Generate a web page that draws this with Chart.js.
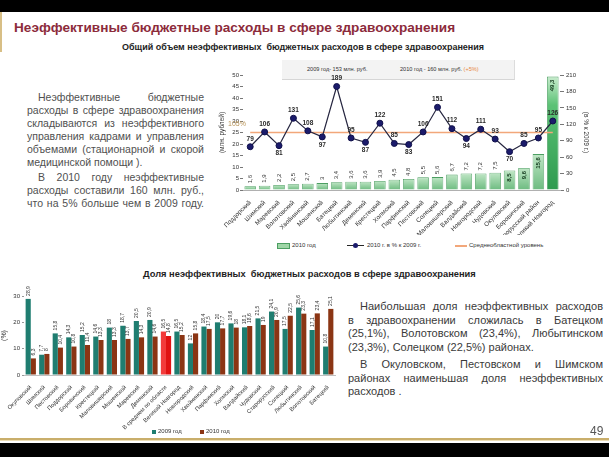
<!DOCTYPE html>
<html lang="ru">
<head>
<meta charset="UTF-8">
<title>Неэффективные бюджетные расходы в сфере здравоохранения</title>
<script src="https://cdn.jsdelivr.net/npm/chart.js@4.4.0/dist/chart.umd.min.js"></script>
<style>
  body { margin: 0; width: 609px; height: 457px; position: relative; overflow: hidden; background: #fff;
         font-family: "Liberation Sans", Arial, sans-serif; }
  .abs { position: absolute; }
  .band { position: absolute; left: 0; width: 609px; background: #000; }
  h1 { position: absolute; left: 14px; top: 20px; margin: 0; font-size: 13.6px; font-weight: bold; color: #8c2b3b; white-space: nowrap; }
  .sub { position: absolute; font-size: 9px; font-weight: bold; color: #1e1e1e; white-space: pre; }
  .note { position: absolute; color: #505050; }
  .note span { display: block; white-space: nowrap; }
  .note .j { text-align: justify; text-align-last: justify; white-space: normal; }
  .note .i { text-indent: 11px; }
  .box { position: absolute; left: 282px; top: 60px; width: 232px; height: 19px; background: #f3f3f3;
         border-right: 1px solid #dcdcdc; border-bottom: 1px solid #d6d6d6; font-size: 5.6px; color: #333; }
  .lg { position: absolute; font-size: 6px; color: #333; white-space: nowrap; }
  canvas { position: absolute; }
</style>
</head>
<body>
  <div class="band" style="top:0;height:12px"></div>
  <div class="abs" style="left:0;top:12px;width:2px;height:40px;background:#d8bf86"></div>
  <h1>Неэффективные бюджетные расходы в сфере здравоохранения</h1>
  <div class="sub" style="left:122px;top:42px">Общий объем неэффективных  бюджетных расходов в сфере здравоохранения</div>

  <div class="note" style="left:27px;top:91px;width:177px;font-size:10.5px;line-height:13px">
    <span class="j i">Неэффективные бюджетные</span>
    <span class="j">расходы в сфере здравоохранения</span>
    <span class="j">складываются из неэффективного</span>
    <span class="j">управления кадрами и управления</span>
    <span class="j">объемами (стационарной  и скорой</span>
    <span>медицинской помощи ).</span>
    <span class="j i" style="margin-top:2px">В 2010 году неэффективные</span>
    <span class="j">расходы составили 160 млн. руб.,</span>
    <span class="j">что на 5% больше чем в 2009 году.</span>
  </div>

  <div class="box">
    <span class="abs" style="left:25px;top:6px">2009 год- 153 млн. руб.</span>
    <span class="abs" style="left:118px;top:6px">2010 год - 160 млн. руб. <span style="color:#e8873c">(+5%)</span></span>
  </div>

  <canvas id="volumeChart" width="372" height="180" style="left:218px;top:55px"></canvas>

  <div class="abs" style="left:277px;top:243px;width:11px;height:4px;background:#9fd6a7;border:1px solid #4c9e62"></div>
  <div class="lg" style="left:292px;top:242px">2010 год</div>
  <div class="abs" style="left:347px;top:245px;width:17px;height:1px;background:#262626"></div>
  <div class="abs" style="left:353px;top:243px;width:5px;height:5px;border-radius:50%;background:#1b1b6b"></div>
  <div class="lg" style="left:367px;top:242px">2010 г. в % к 2009 г.</div>
  <div class="abs" style="left:455px;top:245px;width:12px;height:1.5px;background:#f2a77a"></div>
  <div class="lg" style="left:469px;top:242px">Среднеобластной уровень</div>

  <div class="sub" style="left:143px;top:269px;font-size:9.3px">Доля неэффективных  бюджетных расходов в сфере здравоохранения</div>

  <canvas id="shareChart" width="345" height="147" style="left:0;top:283px"></canvas>

  <div class="abs" style="left:152px;top:430px;width:4px;height:4px;background:#1f7d70"></div>
  <div class="lg" style="left:158px;top:428px">2009 год</div>
  <div class="abs" style="left:200px;top:430px;width:4px;height:4px;background:#8b3514"></div>
  <div class="lg" style="left:206px;top:428px">2010 год</div>

  <div class="note" style="left:348px;top:300px;width:255px;font-size:11px;line-height:13.7px;color:#3a3a3a">
    <span class="j" style="text-indent:12px">Наибольшая доля неэффективных расходов</span>
    <span class="j">в здравоохранении сложилась в Батецком</span>
    <span class="j">(25,1%), Волотовском  (23,4%), Любытинском</span>
    <span>(23,3%), Солецком (22,5%) районах.</span>
    <span class="j" style="text-indent:12px;margin-top:3px">В Окуловском, Пестовском и Шимском</span>
    <span class="j">районах наименьшая доля неэффективных</span>
    <span>расходов .</span>
  </div>

  <div class="abs" style="left:590px;top:424px;font-size:12px;color:#555">49</div>
  <div class="abs" style="left:0;top:438px;width:609px;height:2px;background:#c9ae6b"></div>
  <div class="abs" style="left:0;top:440px;width:609px;height:1px;background:#ecdcb4"></div>
  <div class="band" style="top:443px;height:14px"></div>

<script>
// top chart: volume of ineffective spending, 2010
var volumeDistricts = ['Поддорский', 'Шимский', 'Маревский', 'Волотовский', 'Хвойнинский', 'Мошенской',
  'Батецкий', 'Любытинский', 'Демянский', 'Крестецкий', 'Холмский', 'Парфинский', 'Пестовский',
  'Солецкий', 'Маловишерский', 'Валдайский', 'Новгородский', 'Чудовский', 'Окуловский',
  'Боровичский', 'Старорусский район', 'Великий Новгород'];
var volume2010 = [1.6, 1.9, 2.2, 2.5, 2.7, 3.0, 3.4, 3.6, 3.6, 3.9, 4.5, 4.8, 5.5, 5.6, 6.7, 7.2, 7.2, 7.5,
  8.5, 9.6, 15.6, 49.3];
var volumePercent = [79, 106, 81, 131, 108, 97, 189, 95, 87, 122, 85, 83, 106, 151, 112, 94, 111, 93, 70,
  85, 95, 126];
var regionAverage = 105;
var volumeTicks = [0, 5, 10, 15, 20, 25, 30, 35, 40, 45, 50];
var percentTicks = [0, 30, 60, 90, 120, 150, 180, 210];

// bottom chart: share of ineffective spending, %
var shareCategories = ['Окуловский', 'Шимский', 'Пестовский', 'Поддорский', 'Боровичский', 'Крестецкий',
  'Маловишерский', 'Мошенской', 'Маревский', 'Демянский', 'В среднем по области', 'Великий Новгород',
  'Новгородский', 'Хвойнинский', 'Парфинский', 'Холмский', 'Валдайский', 'Чудовский', 'Старорусский',
  'Солецкий', 'Любытинский', 'Волотовский', 'Батецкий'];
var share2009 = [28.9, 7.7, 15.8, 14.3, 15.2, 14.6, 18.0, 18.7, 20.5, 20.9, 16.5, 16.5, 12.0, 18.4, 20.0,
  19.6, 18.1, 21.5, 24.1, 17.5, 25.6, 17.1, 10.8];
var share2010 = [6.3, 8.0, 10.4, 10.8, 11.4, 13.3, 13.3, 13.7, 14.3, 14.6, 14.8, 15.2, 15.8, 17.5, 17.7,
  18.0, 18.6, 19.0, 20.9, 22.5, 23.3, 23.4, 25.1];
var shareTicks = [0, 10, 20, 30];

Chart.defaults.font.family = '"Liberation Sans", Arial, sans-serif';
Chart.defaults.color = '#333';
Chart.defaults.animation = false;

function fmt(v) { return String(v).replace('.', ','); }

// draws the numbers next to bars and points
var valueLabels = {
  id: 'valueLabels',
  afterDatasetsDraw: function (chart) {
    var c = chart.ctx;
    chart.data.datasets.forEach(function (ds, i) {
      var meta = chart.getDatasetMeta(i);
      if (!ds.labelMode) return;
      meta.data.forEach(function (el, j) {
        var txt = fmt(ds.data[j]);
        c.save();
        if (ds.labelMode === 'point') {
          var prev = ds.data[j - 1], next = ds.data[j + 1], v = ds.data[j];
          var below = prev !== undefined && next !== undefined && v < prev && v < next;
          c.font = 'bold 6.5px "Liberation Sans", Arial, sans-serif';
          c.fillStyle = '#2a2a2a';
          c.textAlign = 'center';
          c.textBaseline = 'middle';
          c.fillText(txt, el.x, below ? el.y + 8 : el.y - 8);
        } else {
          c.font = (ds.labelSize === 'small' ? '5px' : '6px') + ' "Liberation Sans", Arial, sans-serif';
          var w = c.measureText(txt).width;
          var h = el.base - el.y;
          c.translate(el.x, el.y);
          c.rotate(-Math.PI / 2);
          c.textBaseline = 'middle';
          if (ds.labelMode === 'bar' && h >= w + 9) {
            c.font = 'bold 6px "Liberation Sans", Arial, sans-serif';
            c.fillStyle = '#143a1e';
            c.textAlign = 'right';
            c.fillText(txt, -3, 0);
          } else {
            c.fillStyle = '#333';
            c.textAlign = 'left';
            c.fillText(txt, 3, 0);
          }
        }
        c.restore();
      });
    });
    if (chart.options.plugins.averageNote) {
      var y1 = chart.scales.y1;
      c.save();
      c.font = '7px "Liberation Sans", Arial, sans-serif';
      c.fillStyle = '#b89458';
      c.textAlign = 'center';
      c.fillText(regionAverage + '%', chart.chartArea.left - 6, y1.getPixelForValue(regionAverage) - 7);
      c.restore();
    }
  }
};

function greenFill(ctx) {
  var chart = ctx.chart, area = chart.chartArea;
  if (!area) return '#9fd6a7';
  var top = chart.scales.y.getPixelForValue(ctx.raw);
  var g = chart.ctx.createLinearGradient(0, top, 0, area.bottom);
  if (ctx.dataIndex === volume2010.length - 1) {
    g.addColorStop(0, '#c8eccd');
    g.addColorStop(0.25, '#5cc276');
    g.addColorStop(1, '#2d9a4e');
  } else {
    g.addColorStop(0, '#bfe6c5');
    g.addColorStop(1, '#6dbb80');
  }
  return g;
}

new Chart(document.getElementById('volumeChart'), {
  type: 'bar',
  data: {
    labels: volumeDistricts,
    datasets: [
      { type: 'line', label: '2010 г. в % к 2009 г.', data: volumePercent, yAxisID: 'y1', order: 0,
        borderColor: '#262640', borderWidth: 1.2, pointRadius: 3, pointBackgroundColor: '#1b1b6b',
        pointBorderColor: '#10104a', pointBorderWidth: 1, labelMode: 'point' },
      { type: 'line', label: 'Среднеобластной уровень', data: volumeDistricts.map(function () { return regionAverage; }),
        yAxisID: 'y1', order: 1, borderColor: '#f2a77a', borderWidth: 1.3, pointRadius: 0 },
      { type: 'bar', label: '2010 год', data: volume2010, yAxisID: 'y', order: 2,
        backgroundColor: greenFill, borderColor: '#4c9e62', borderWidth: 0.8,
        barPercentage: 0.8, categoryPercentage: 1, labelMode: 'bar' }
    ]
  },
  options: {
    responsive: false,
    layout: { padding: { top: 20, left: 0, right: 0, bottom: 0 } },
    plugins: { legend: { display: false }, tooltip: { enabled: false }, averageNote: true },
    scales: {
      x: {
        grid: { display: false }, border: { color: '#b0b0b0' },
        ticks: { autoSkip: false, minRotation: 45, maxRotation: 45, padding: 1, font: { size: 6.3 }, color: '#333' },
        afterFit: function (s) { s.height = 45; }
      },
      y: {
        position: 'left', min: 0, max: 50,
        afterBuildTicks: function (s) { s.ticks = volumeTicks.map(function (v) { return { value: v }; }); },
        grid: { drawOnChartArea: false, tickLength: 3, color: '#777' }, border: { display: false },
        ticks: { font: { size: 6 }, padding: 1 },
        title: { display: true, text: '(млн. рублей)', font: { size: 6.5 }, padding: 0 },
        afterFit: function (s) { s.width = 25; }
      },
      y1: {
        position: 'right', min: 0, max: 210,
        afterBuildTicks: function (s) { s.ticks = percentTicks.map(function (v) { return { value: v }; }); },
        grid: { drawOnChartArea: false, tickLength: 4, color: '#777' }, border: { display: false },
        ticks: { font: { size: 6 }, padding: 2 },
        title: { display: true, text: '(в % к 2009 г.)', font: { size: 6.5 }, padding: 0 },
        afterFit: function (s) { s.width = 30; }
      }
    }
  },
  plugins: [valueLabels]
});

var avgIndex = shareCategories.indexOf('В среднем по области');

new Chart(document.getElementById('shareChart'), {
  type: 'bar',
  data: {
    labels: shareCategories,
    datasets: [
      { label: '2009 год', data: share2009, labelMode: 'plain', labelSize: 'small',
        backgroundColor: function (c) { return c.dataIndex === avgIndex ? '#f23b3b' : '#1f7d70'; },
        categoryPercentage: 0.76, barPercentage: 1 },
      { label: '2010 год', data: share2010, labelMode: 'plain', labelSize: 'small',
        backgroundColor: function (c) { return c.dataIndex === avgIndex ? '#e01212' : '#8b3514'; },
        categoryPercentage: 0.76, barPercentage: 1 }
    ]
  },
  options: {
    responsive: false,
    layout: { padding: { top: 13, left: 0, right: 10, bottom: 0 } },
    plugins: { legend: { display: false }, tooltip: { enabled: false } },
    scales: {
      x: {
        grid: { display: false }, border: { color: '#c0c0c0' },
        ticks: { autoSkip: false, minRotation: 45, maxRotation: 45, padding: 1, font: { size: 5.8 }, color: '#333' },
        afterFit: function (s) { s.height = 55; }
      },
      y: {
        min: 0, max: 30,
        afterBuildTicks: function (s) { s.ticks = shareTicks.map(function (v) { return { value: v }; }); },
        grid: { drawOnChartArea: false, tickLength: 2, color: '#999' }, border: { display: false },
        ticks: { font: { size: 6 }, padding: 2 },
        title: { display: true, text: '(%)', font: { size: 7 }, padding: 0 },
        afterFit: function (s) { s.width = 24; }
      }
    }
  },
  plugins: [valueLabels]
});
</script>
</body>
</html>
